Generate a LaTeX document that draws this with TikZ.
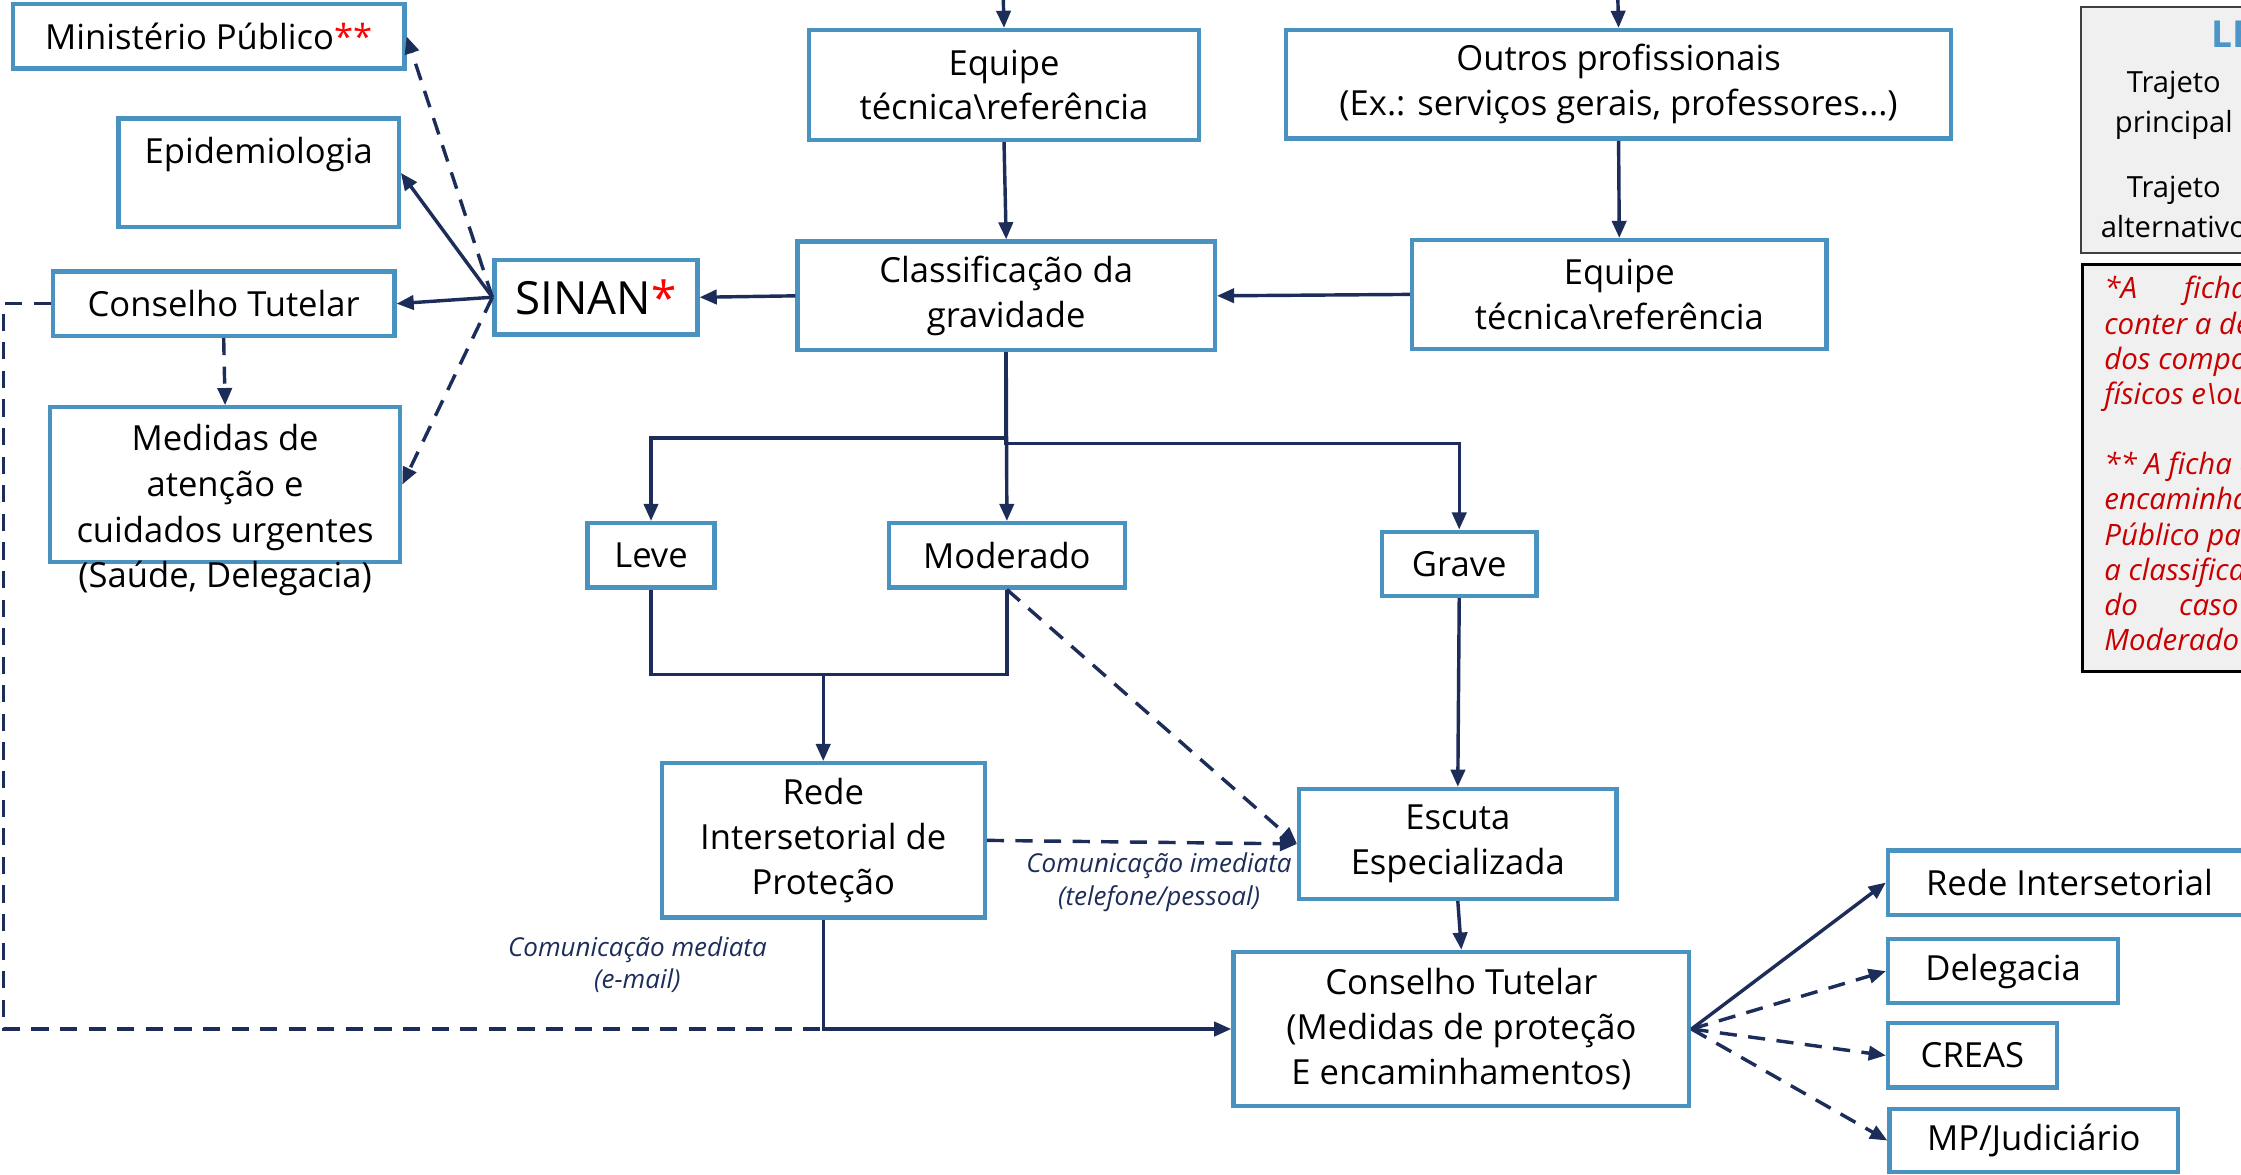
\documentclass[tikz,border=0pt]{standalone}
\usepackage{fontspec}
\setmainfont{Open Sans}
\usetikzlibrary{arrows.meta, positioning}

\definecolor{boxblue}{RGB}{74,147,193}
\definecolor{navy}{RGB}{29,45,90}
\definecolor{notered}{RGB}{200,0,0}
\definecolor{legblue}{RGB}{75,150,200}

\tikzset{
  box/.style={draw=boxblue, line width=1.5pt, align=center, inner sep=0pt,
    font=\fontsize{12.1}{15.7}\selectfont},
  wh/.style 2 args={minimum width=#1, minimum height=#2},
  arr/.style={draw=navy, line width=1.2pt, -{Triangle[length=6pt, width=5pt]}},
  dasharr/.style={arr, dash pattern=on 6pt off 4pt},
  comm/.style={text=navy, align=center, font=\fontsize{9.1}{11.5}\selectfont\itshape},
}

\begin{document}
\begin{tikzpicture}[x=0.5pt, y=-0.5pt]
  \clip (0,0) rectangle (1568,822);

  % Notificacao e encaminhamentos
  \node[box, wh={137pt}{22.5pt}] (mp) at (146,25.5) {Ministério Público\textcolor{red}{**}};
  \node[box, wh={98pt}{38pt}] (epi) at (181,121) {Epidemiologia\\ ~};
  \node[box, wh={119.5pt}{22.5pt}] (ctl) at (156.5,212.5) {Conselho Tutelar};
  \node[box, wh={71pt}{26pt}, font=\fontsize{16}{19}\selectfont] (sinan) at (417,208) {SINAN\textcolor{red}{*}};
  \node[box, wh={122.5pt}{54pt}] (med) at (157.5,339) {};
  \node[align=center, font=\fontsize{12.1}{16}\selectfont] (medtxt) at (157.5,357)
    {Medidas de\\atenção e\\cuidados urgentes\\(Saúde, Delegacia)};

  % Entrada e classificacao
  \node[box, wh={136.5pt}{38.5pt}] (eqA) at (702.5,59.5) {Equipe\\técnica\textbackslash referência};
  \node[box, wh={232.5pt}{38pt}] (outros) at (1132.5,59) {Outros profissionais\\(Ex.: serviços gerais, professores...)};
  \node[box, wh={146pt}{38pt}] (cls) at (704,207) {Classificação da\\gravidade};
  \node[box, wh={145pt}{38pt}] (eqB) at (1133,206) {Equipe\\técnica\textbackslash referência};
  \coordinate (inA) at (702,0);
  \coordinate (inB) at (1132,0);

  % Gravidade
  \node[box, wh={44.5pt}{22.5pt}] (leve) at (455.5,388.5) {Leve};
  \node[box, wh={82.5pt}{22.5pt}] (mod) at (704.5,388.5) {Moderado};
  \node[box, wh={54pt}{22.5pt}] (grave) at (1021,394.5) {Grave};
  \coordinate (jn) at (576,472);

  % Rede de protecao
  \node[box, wh={113pt}{54pt}] (rede) at (576,588) {Rede\\Intersetorial de\\Proteção};
  \node[box, wh={111pt}{38.5pt}] (escuta) at (1020,590.5) {Escuta\\Especializada};
  \node[box, wh={159.5pt}{54pt}] (ctg) at (1022.5,720) {Conselho Tutelar\\(Medidas de proteção\\E encaminhamentos)};
  \node[comm] (lblim) at (811,617) {Comunicação imediata\\(telefone/pessoal)};
  \node[comm] (lblme) at (446,675) {Comunicação mediata\\(e-mail)};

  \node[box, wh={127pt}{22.5pt}] (ri) at (1448,617.5) {Rede Intersetorial};
  \node[box, wh={80.5pt}{22.5pt}] (del) at (1401.5,679.5) {Delegacia};
  \node[box, wh={59pt}{22.5pt}] (creas) at (1380,738.5) {CREAS};
  \node[box, wh={101pt}{22pt}] (mpj) at (1423,798) {MP/Judiciário};

  % Legenda e notas
  \draw[draw=black!75, fill=black!6, line width=0.8pt] (1456,5) rectangle (1640,177);
  \node[text=legblue, anchor=west, inner sep=0pt, font=\fontsize{13}{15}\selectfont\bfseries] (legt) at (1547,24) {LEGENDA};
  \node[align=center, font=\fontsize{10.2}{14}\selectfont] (trp) at (1521,74) {Trajeto\\principal};
  \node[align=center, font=\fontsize{10.2}{14}\selectfont] (tra) at (1521,145) {Trajeto\\alternativo};
  \draw[draw=black, fill=black!6, line width=1.2pt] (1457,185) rectangle (1640,470);
  \node[anchor=north west, align=left, text=notered, inner sep=0pt,
    font=\fontsize{10.3}{12.3}\selectfont\itshape] (nota) at (1472,193)
    {*A\hspace{1.6em}ficha\hspace{1.6em}deve\\
     conter a descrição\\
     dos comportamentos\\
     físicos e\textbackslash ou psicológicos\\[12.3pt]
     ** A ficha deve ser\\
     encaminhada ao Ministério\\
     Público para os casos em que\\
     a classificação\\
     do\hspace{1.4em}caso\hspace{1.4em}for Leve ou\\
     Moderado};

  % Conexoes
  \draw[arr] (inA) -- (eqA.north);
  \draw[arr] (inB) -- (outros.north);
  \draw[arr] (eqA.south) -- (cls.north);
  \draw[arr] (outros.south) -- (eqB.north);
  \draw[arr] (eqB.west) -- (cls.east);
  \draw[arr] (cls.west) -- (sinan.east);
  \draw[arr] (sinan.west) -- (ctl.east);
  \draw[arr] (sinan.west) -- (epi.east);
  \draw[dasharr] (sinan.west) -- (mp.east);
  \draw[dasharr] (sinan.west) -- (med.east);
  \draw[dasharr] (ctl.south) -- (med.north);
  \draw[draw=navy, line width=1.2pt, dash pattern=on 6pt off 4pt]
    (ctl.west) -- ++(-33,0) |- (ctg.west);
  \draw[arr] (cls.south) -- ++(0,60) -| (leve.north);
  \draw[arr] (cls.south) -- (mod.north);
  \draw[arr] (cls.south) -- ++(0,64) -| (grave.north);
  \draw[draw=navy, line width=1.2pt] (leve.south) |- (jn) -| (mod.south);
  \draw[arr] (jn) -- (rede.north);
  \draw[dasharr] (mod.south) -- (escuta.west);
  \draw[arr] (grave.south) -- (escuta.north);
  \draw[dasharr] (rede.east) -- (escuta.west);
  \draw[arr] (escuta.south) -- (ctg.north);
  \draw[arr] (rede.south) |- (ctg.west);
  \draw[arr] (ctg.east) -- (ri.west);
  \draw[dasharr] (ctg.east) -- (del.west);
  \draw[dasharr] (ctg.east) -- (creas.west);
  \draw[dasharr] (ctg.east) -- (mpj.west);
\end{tikzpicture}
\end{document}
